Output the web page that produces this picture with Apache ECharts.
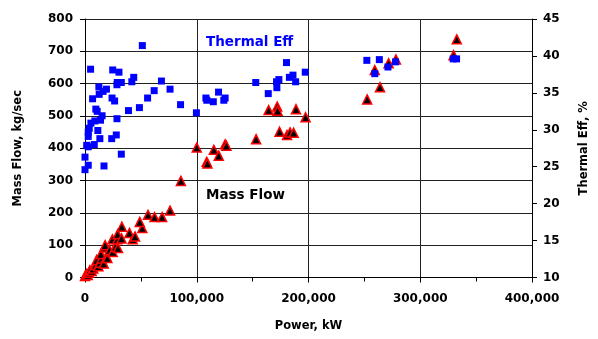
<!DOCTYPE html>
<html>
<head>
<meta charset="utf-8">
<script src="https://cdn.jsdelivr.net/npm/echarts@6/dist/echarts.min.js"></script>
<style>
html,body{margin:0;padding:0;background:#fff;}
#chart{width:598px;height:339px;}
</style>
</head>
<body>
<div id="chart"></div>
<script>
// X axis ticks
var xTicks = [0, 100000, 200000, 300000, 400000];
// Mass flow series (left axis): power kW and mass flow kg/sec
var massPower = [0,1500,2400,3500,4400,6000,7400,9500,10400,12000,13300,14800,14200,16800,19200,20000,17400,18000,22000,24800,27200,29500,24500,28900,29200,32700,33000,39800,42700,44800,51300,49000,56400,62200,69000,76100,85800,100000,108900,109500,115300,119700,125400,126500,153100,164300,172000,172300,174100,180800,183500,186700,188800,197400,252500,259300,264000,271700,278200,329800,332700];
var massFlow  = [5,11,8,15,23,20,28,39,54,35,46,59,73,43,64,60,93,100,85,79,95,91,118,118,134,121,157,138,118,127,153,172,194,187,187,207,299,402,358,353,395,377,412,408,428,518,529,516,451,441,449,448,521,496,551,642,589,663,675,688,737];
// Thermal efficiency series (right axis): power kW and efficiency %
var effPower = [51300,5000,24800,30400,43600,41900,68400,28900,32500,28600,12400,19200,16200,12700,61900,76100,6800,24200,26500,56000,48700,38900,85500,99700,9700,10900,15300,13900,8800,5300,28600,3800,2900,11500,2900,28000,13300,23900,8300,2900,1500,0,32500,2900,0,17000,108200,109000,114800,119500,125400,124200,152800,164000,171700,171400,173500,180300,182900,186100,188500,197100,252200,263400,259300,271100,277900,329500,332500];
var effValue = [41.4,38.2,38.1,37.8,37.1,36.5,36.6,36.4,36.4,36.1,35.8,35.5,35.2,34.8,35.3,35.5,34.2,34.3,33.9,34.3,33.0,32.6,33.4,32.3,32.8,32.5,31.9,31.3,31.2,30.9,31.5,30.2,29.7,29.9,29.1,29.3,28.8,28.8,28.0,27.7,27.9,26.3,26.7,25.2,24.6,25.1,34.3,34.0,33.8,35.1,34.3,34.0,36.4,34.9,35.7,36.5,36.8,39.1,37.1,37.4,36.5,37.8,39.4,39.5,37.6,38.5,39.2,39.6,39.6];

function zip(a, b) { return a.map(function (v, i) { return [v, b[i]]; }); }

var FONT = 'DejaVu Sans';
var chart = echarts.init(document.getElementById('chart'), null, {renderer: 'canvas'});
chart.setOption({
  animation: false,
  backgroundColor: '#ffffff',
  grid: {left: 85, right: 61, top: 19, bottom: 61.5, containLabel: false},
  xAxis: {
    type: 'value', min: xTicks[0], max: xTicks[xTicks.length - 1], interval: 100000,
    name: 'Power, kW', nameLocation: 'middle', nameGap: 43,
    nameTextStyle: {fontFamily: FONT, fontWeight: 'bold', fontSize: 11.5, color: '#000'},
    axisLine: {show: true, onZero: false, lineStyle: {color: '#000', width: 1}},
    axisTick: {show: true, inside: false, length: 5, lineStyle: {color: '#000'}},
    minorTick: {show: true, splitNumber: 2, length: 4, lineStyle: {color: '#000'}},
    axisLabel: {margin: 15, fontFamily: FONT, fontWeight: 'bold', fontSize: 12, color: '#000',
      formatter: function (v) { return v.toLocaleString('en-US'); }},
    splitLine: {show: true, lineStyle: {color: '#222', width: 1}}
  },
  yAxis: [{
    type: 'value', min: 0, max: 800, interval: 100, position: 'left',
    name: 'Mass Flow, kg/sec', nameLocation: 'middle', nameGap: 61,
    nameTextStyle: {fontFamily: FONT, fontWeight: 'bold', fontSize: 11.5, color: '#000'},
    axisLine: {show: true, lineStyle: {color: '#000', width: 1}},
    axisTick: {show: true, inside: false, length: 5, lineStyle: {color: '#000'}},
    axisLabel: {margin: 12, fontFamily: FONT, fontWeight: 'bold', fontSize: 12, color: '#000'},
    splitLine: {show: true, lineStyle: {color: '#222', width: 1}}
  }, {
    type: 'value', min: 10, max: 45, interval: 5, position: 'right',
    name: 'Thermal Eff, %', nameLocation: 'middle', nameGap: 46, nameRotate: 90,
    nameTextStyle: {fontFamily: FONT, fontWeight: 'bold', fontSize: 11.5, color: '#000'},
    axisLine: {show: true, lineStyle: {color: '#000', width: 1}},
    axisTick: {show: true, inside: false, length: 5, lineStyle: {color: '#000'}},
    axisLabel: {margin: 11, fontFamily: FONT, fontWeight: 'bold', fontSize: 12, color: '#000'},
    splitLine: {show: false}
  }],
  graphic: [
    {type: 'text', left: 206, top: 35, style: {text: 'Thermal Eff', fill: '#0000ff',
      font: 'bold 13.5px "DejaVu Sans"'}},
    {type: 'text', left: 206, top: 188, style: {text: 'Mass Flow', fill: '#000',
      font: 'bold 13.5px "DejaVu Sans"'}}
  ],
  series: [{
    name: 'Mass Flow', type: 'scatter', yAxisIndex: 0,
    data: zip(massPower, massFlow),
    symbol: 'triangle', symbolSize: 9,
    itemStyle: {color: '#000000', borderColor: '#ff0000', borderWidth: 1.5, opacity: 1}
  }, {
    name: 'Thermal Eff', type: 'scatter', yAxisIndex: 1,
    data: zip(effPower, effValue),
    symbol: 'rect', symbolSize: 7,
    itemStyle: {color: '#0000ff', opacity: 1}
  }]
});
</script>
</body>
</html>
